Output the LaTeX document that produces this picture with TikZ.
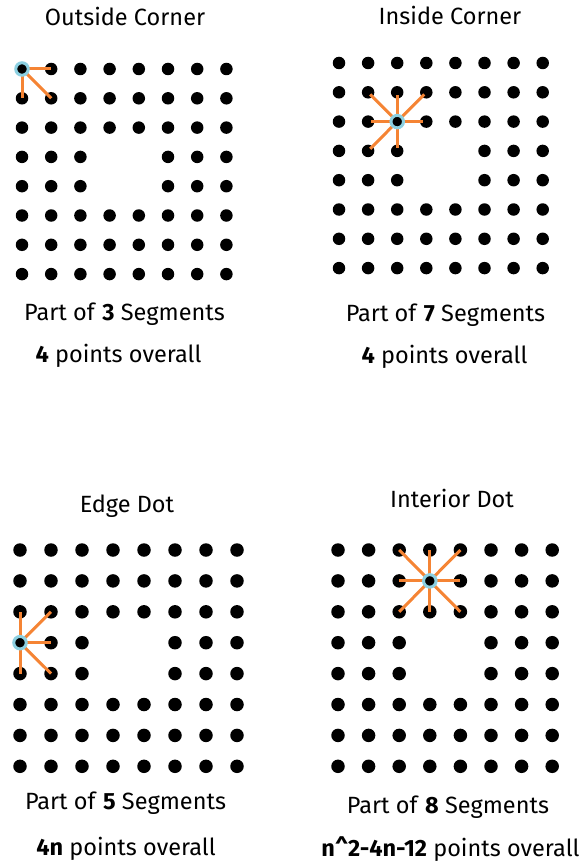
\documentclass[tikz,border=0pt]{standalone}
\usepackage{fontspec}
\setmainfont{Fira Sans}
\usepackage{tikz}
\usetikzlibrary{positioning}
\definecolor{segorange}{RGB}{245,132,52}
\definecolor{ringblue}{RGB}{140,208,225}

\begin{document}
\begin{tikzpicture}[x=1pt, y=-1pt,
  font=\fontsize{23.5}{27}\selectfont,
  dot/.style  ={circle, fill=black, inner sep=0pt, minimum size=12.5pt},
  hub/.style  ={circle, fill=black, draw=ringblue, line width=3pt,
                inner sep=0pt, minimum size=12.5pt},
  seg/.style  ={draw=segorange, line width=3pt},
  label/.style={anchor=base},
]
\useasboundingbox (0,0) rectangle (586,861);

% === Dot grids (2x2 hole in the middle) ===
\begin{scope}[shift={(22,69)}, x=29.2pt, y=-29.3pt]
  \foreach \c in {0,...,7}
    \foreach \r in {0,...,7}{
      \pgfmathtruncatemacro\hole{and(and(\c>2,\c<5),and(\r>2,\r<5))}
      \ifnum\hole=0 \node[dot] (a-\c-\r) at (\c,\r) {}; \fi
    }
\end{scope}

\begin{scope}[shift={(339,63)}, x=29.1pt, y=-29.3pt]
  \foreach \c in {0,...,7}
    \foreach \r in {0,...,7}{
      \pgfmathtruncatemacro\hole{and(and(\c>2,\c<5),and(\r>2,\r<5))}
      \ifnum\hole=0 \node[dot] (b-\c-\r) at (\c,\r) {}; \fi
    }
\end{scope}

\begin{scope}[shift={(20,550)}, x=31pt, y=-30.9pt]
  \foreach \c in {0,...,7}
    \foreach \r in {0,...,7}{
      \pgfmathtruncatemacro\hole{and(and(\c>2,\c<5),and(\r>2,\r<5))}
      \ifnum\hole=0 \node[dot, minimum size=13.5pt] (c-\c-\r) at (\c,\r) {}; \fi
    }
\end{scope}

\begin{scope}[shift={(338,550)}, x=30.6pt, y=-30.9pt]
  \foreach \c in {0,...,7}
    \foreach \r in {0,...,7}{
      \pgfmathtruncatemacro\hole{and(and(\c>2,\c<5),and(\r>2,\r<5))}
      \ifnum\hole=0 \node[dot, minimum size=13.5pt] (d-\c-\r) at (\c,\r) {}; \fi
    }
\end{scope}

% === Segments ===
\foreach \n in {1-0,0-1,1-1}
  \draw[seg] (a-0-0.center) -- (a-\n.center);
\node[hub] (hubA) at (a-0-0) {};

\foreach \n in {1-1,2-1,3-1,1-2,3-2,1-3,2-3}
  \draw[seg, shorten >=3pt] (b-2-2.center) -- (b-\n.center);
\node[hub] (hubB) at (b-2-2) {};

\foreach \n in {0-2,1-2,1-3,1-4,0-4}
  \draw[seg] (c-0-3.center) -- (c-\n.center);
\node[hub] (hubC) at (c-0-3) {};

\foreach \n in {2-0,3-0,4-0,2-1,4-1,2-2,3-2,4-2}
  \draw[seg] (d-3-1.center) -- (d-\n.center);
\node[hub] (hubD) at (d-3-1) {};

% === Titles ===
\node[label] (titleA) at (125,26) {Outside Corner};
\node[label] (titleB) at (450,25) {Inside Corner};
\node[label] (titleC) at (127,512) {Edge Dot};
\node[label] (titleD) at (452,507) {Interior Dot};

% === Counts ===
\node[label] (segA) at (124.5,320) {Part of \textbf{3} Segments};
\node[label] (ptsA) at (118.5,362) {\textbf{4} points overall};
\node[label] (segB) at (445.5,321) {Part of \textbf{7} Segments};
\node[label] (ptsB) at (444.5,363) {\textbf{4} points overall};
\node[label] (segC) at (125.5,809) {Part of \textbf{5} Segments};
\node[label] (ptsC) at (126,855) {\textbf{4n} points overall};
\node[label] (segD) at (448,813) {Part of \textbf{8} Segments};
\node[label] (ptsD) at (450.5,856) {\textbf{n\textasciicircum 2-4n-12} points overall};

\end{tikzpicture}
\end{document}
